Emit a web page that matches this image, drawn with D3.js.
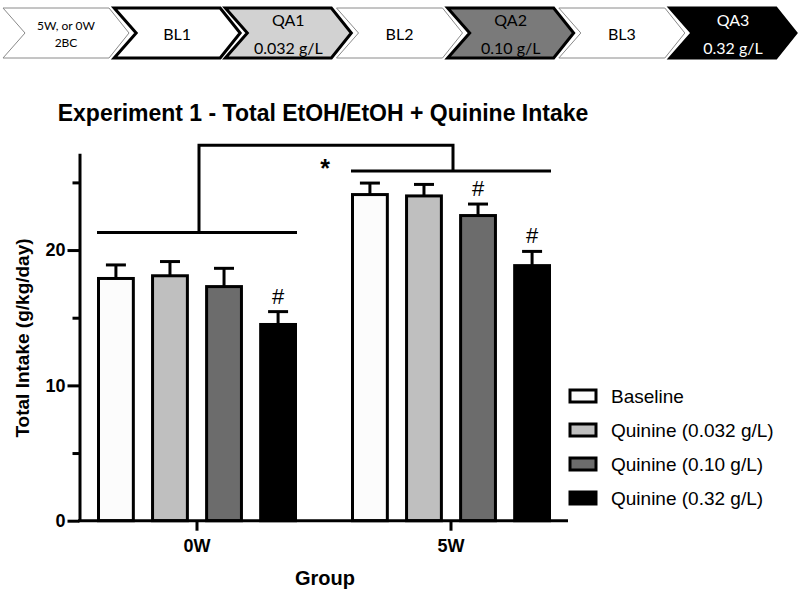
<!DOCTYPE html>
<html><head><meta charset="utf-8">
<script src="https://cdn.jsdelivr.net/npm/d3@7"></script>
<style>body{margin:0;background:#fff} svg{display:block}</style>
</head><body><svg id="c" width="800" height="591"></svg>
<script>
// ---------- data ----------
const groups = ["0W", "5W"];
const series = ["Baseline", "Quinine (0.032 g/L)", "Quinine (0.10 g/L)", "Quinine (0.32 g/L)"];
const means0W = [17.9, 18.1, 17.3, 14.5];
const sem0W   = [1.0, 1.05, 1.35, 0.95];
const means5W = [24.1, 24.0, 22.55, 18.85];
const sem5W   = [0.85, 0.85, 0.85, 1.05];
const hash0W = [false, false, false, true];
const hash5W = [false, false, true, true];
const yMajorTicks = [0, 10, 20];
const yMinorTicks = [5, 15, 25];
const groupBracketLevels = [21.3, 25.85];
const topBracketLevel = 27.75;
const stageLabels = [["5W, or 0W", "2BC"], ["BL1"], ["QA1", "0.032 g/L"], ["BL2"], ["QA2", "0.10 g/L"], ["BL3"], ["QA3", "0.32 g/L"]];
const title = "Experiment 1 - Total EtOH/EtOH + Quinine Intake";

// ---------- styles ----------
const FONT = "'Liberation Sans', Arial, sans-serif";
const seriesFill = ["#fcfcfc", "#bfbfbf", "#6c6c6c", "#000000"];
const stageStyle = [
  {fill: "#ffffff", stroke: "#8a8a8a", sw: 1, text: "#000", small: true},
  {fill: "#ffffff", stroke: "#000", sw: 3, text: "#000"},
  {fill: "#d2d2d2", stroke: "#000", sw: 3, text: "#000"},
  {fill: "#ffffff", stroke: "#8a8a8a", sw: 1, text: "#000"},
  {fill: "#7a7a7a", stroke: "#000", sw: 3, text: "#000"},
  {fill: "#ffffff", stroke: "#8a8a8a", sw: 1, text: "#000"},
  {fill: "#000000", stroke: "#000", sw: 3, text: "#fff"}
];

const svg = d3.select("#c");
const rows = groups.map((g, gi) => ({
  g, means: gi === 0 ? means0W : means5W, sems: gi === 0 ? sem0W : sem5W, hash: gi === 0 ? hash0W : hash5W
}));

// ---------- top stage chevrons ----------
const sx = d3.scaleLinear().domain([0, stageLabels.length - 1]).range([3, 670]);
const chevW = 106, chevT = 20, chevN = 22, chevTop = 8, chevBot = 58;
const chevMid = (chevTop + chevBot) / 2;
const stageG = svg.append("g").selectAll("g").data(stageLabels).join("g");
stageG.append("path")
  .attr("d", (d, i) => {
    const L = sx(i);
    return `M${L},${chevTop}L${L + chevW},${chevTop}L${L + chevW + chevT},${chevMid}L${L + chevW},${chevBot}L${L},${chevBot}L${L + chevN},${chevMid}Z`;
  })
  .attr("fill", (d, i) => stageStyle[i].fill)
  .attr("stroke", (d, i) => stageStyle[i].stroke)
  .attr("stroke-width", (d, i) => stageStyle[i].sw)
  .attr("stroke-linejoin", "miter");
stageG.each(function (d, i) {
  const st = stageStyle[i];
  const cx = sx(i) + 63;
  const fs = st.small ? 12 : 16;
  const ys = d.length === 1 ? [chevMid] : (st.small ? [chevMid - 8, chevMid + 9] : [chevMid - 14, chevMid + 14]);
  d3.select(this).selectAll("text").data(d).join("text")
    .attr("x", cx).attr("y", (t, k) => ys[k])
    .attr("text-anchor", "middle").attr("dominant-baseline", "central")
    .attr("font-family", "Lato, 'Open Sans', sans-serif").attr("font-size", fs)
    .attr("fill", st.text).text(t => t);
});

// ---------- title ----------
svg.append("text").attr("x", 323).attr("y", 121)
  .attr("text-anchor", "middle")
  .attr("font-family", FONT).attr("font-weight", "bold")
  .attr("font-size", 23).text(title);

// ---------- scales ----------
const y = d3.scaleLinear().domain([0, 27.15]).range([520.7, 153.3]);
const xg = d3.scaleBand().domain(groups).range([70, 578]).paddingInner(0);
const xs = d3.scaleBand().domain(series).range([-100, 100]).paddingInner(0.3).paddingOuter(0);
const gc = g => xg(g) + xg.bandwidth() / 2;
const axisX = 79.5;

// ---------- bars ----------
const barG = svg.append("g");
rows.forEach(r => {
  const sg = barG.append("g");
  const items = series.map((s, i) => ({s, i, v: r.means[i], e: r.sems[i], h: r.hash[i]}));
  const bx = d => gc(r.g) + xs(d.s);
  sg.selectAll("line.err").data(items).join("line").attr("class", "err")
    .attr("x1", d => bx(d) + xs.bandwidth() / 2).attr("x2", d => bx(d) + xs.bandwidth() / 2)
    .attr("y1", d => y(d.v)).attr("y2", d => y(d.v + d.e))
    .attr("stroke", "#000").attr("stroke-width", 3);
  sg.selectAll("line.cap").data(items).join("line").attr("class", "cap")
    .attr("x1", d => bx(d) + xs.bandwidth() / 2 - 10).attr("x2", d => bx(d) + xs.bandwidth() / 2 + 10)
    .attr("y1", d => y(d.v + d.e)).attr("y2", d => y(d.v + d.e))
    .attr("stroke", "#000").attr("stroke-width", 3);
  sg.selectAll("rect").data(items).join("rect")
    .attr("x", d => bx(d) + 1.5).attr("width", xs.bandwidth() - 3)
    .attr("y", d => y(d.v)).attr("height", d => y(0) - y(d.v))
    .attr("fill", d => seriesFill[d.i]).attr("stroke", "#000").attr("stroke-width", 3);
  sg.selectAll("text.hash").data(items.filter(d => d.h)).join("text").attr("class", "hash")
    .attr("x", d => bx(d) + xs.bandwidth() / 2).attr("y", d => y(d.v + d.e) - 8)
    .attr("text-anchor", "middle")
    .attr("font-family", FONT).attr("font-size", 22)
    .text("#");
});

// ---------- significance brackets ----------
const brG = svg.append("g").attr("stroke", "#000").attr("stroke-width", 3).attr("fill", "none");
rows.forEach((r, gi) => {
  const x0 = gc(r.g) + xs(series[0]);
  const x1 = gc(r.g) + xs(series[series.length - 1]) + xs.bandwidth();
  brG.append("line").attr("x1", x0).attr("x2", x1)
    .attr("y1", y(groupBracketLevels[gi])).attr("y2", y(groupBracketLevels[gi]));
});
const cA = gc(groups[0]) + 2, cB = gc(groups[1]) + 2;
brG.append("path")
  .attr("d", `M${cA},${y(groupBracketLevels[0])}L${cA},${y(topBracketLevel)}L${cB},${y(topBracketLevel)}L${cB},${y(groupBracketLevels[1])}`)
  .attr("stroke-linejoin", "miter");
svg.append("text").attr("x", 325).attr("y", y(26.4) + 14)
  .attr("text-anchor", "middle")
  .attr("font-family", FONT).attr("font-weight", "bold")
  .attr("font-size", 25).text("*");

// ---------- axes ----------
const yAx = svg.append("g").attr("transform", `translate(${axisX},0)`)
  .call(d3.axisLeft(y).tickValues(yMajorTicks).tickSize(12).tickSizeOuter(0).tickPadding(2));
svg.append("g").attr("transform", `translate(${axisX},0)`)
  .call(d3.axisLeft(y).tickValues(yMinorTicks).tickSize(7).tickFormat(""))
  .call(g => g.select(".domain").remove());
svg.selectAll(".tick line").attr("stroke-width", 3);
yAx.select(".domain").attr("stroke-width", 3);
yAx.selectAll("text").attr("font-family", FONT)
  .attr("font-weight", "bold").attr("font-size", 18).attr("fill", "#000");

const xAx = svg.append("g").attr("transform", `translate(0,${y(0)})`)
  .call(d3.axisBottom(xg).tickSize(10).tickSizeOuter(0).tickPadding(9));
xAx.select(".domain").remove();
xAx.selectAll(".tick line").attr("stroke-width", 3);
xAx.selectAll("text").attr("font-family", FONT)
  .attr("font-weight", "bold").attr("font-size", 18).attr("fill", "#000");
svg.append("line").attr("x1", axisX - 1.5).attr("x2", 568)
  .attr("y1", y(0)).attr("y2", y(0)).attr("stroke", "#000").attr("stroke-width", 3);

svg.append("text").attr("x", 325).attr("y", 585)
  .attr("text-anchor", "middle")
  .attr("font-family", FONT).attr("font-weight", "bold")
  .attr("font-size", 20).text("Group");
svg.append("text").attr("transform", `translate(29,338) rotate(-90)`)
  .attr("text-anchor", "middle")
  .attr("font-family", FONT).attr("font-weight", "bold")
  .attr("font-size", 19).text("Total Intake (g/kg/day)");

// ---------- legend ----------
const ly = d3.scalePoint().domain(series).range([396, 498]);
const lg = svg.append("g").selectAll("g").data(series).join("g")
  .attr("transform", d => `translate(570,${ly(d)})`);
lg.append("rect").attr("x", 0).attr("y", -6).attr("width", 26).attr("height", 12)
  .attr("fill", (d, i) => seriesFill[i]).attr("stroke", "#000").attr("stroke-width", 3);
lg.append("text").attr("x", 41).attr("y", 0).attr("dominant-baseline", "central")
  .attr("font-family", FONT).attr("font-size", 19)
  .text(d => d);
</script></body></html>
